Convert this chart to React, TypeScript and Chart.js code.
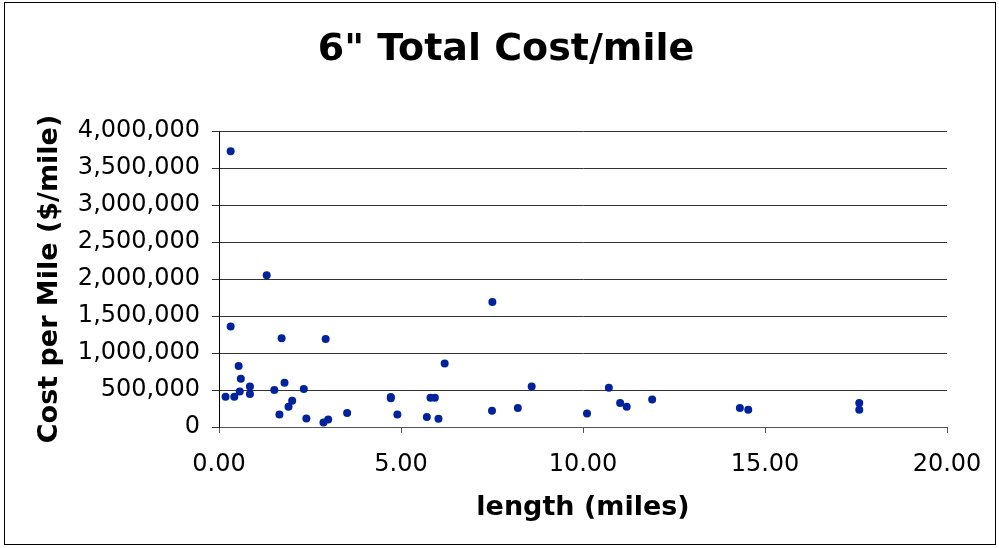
import React, { useEffect, useRef } from "react";
import { Chart, registerables } from "chart.js";

Chart.register(...registerables);

const chartTitle = '6" Total Cost/mile';
const xAxisTitle = "length (miles)";
const yAxisTitle = "Cost per Mile ($/mile)";

const lengthMiles = [
  0.32, 1.31, 0.32, 1.72, 2.93, 0.54, 0.6, 0.18, 0.42, 0.57, 0.85, 0.85, 1.52,
  1.8, 1.66, 1.91, 2.01, 2.33, 2.4, 2.87, 3.0, 3.52, 7.51, 6.2, 8.59, 4.72, 4.72,
  4.9, 5.81, 5.93, 5.71, 6.03, 7.5, 8.21, 10.11, 10.71, 11.02, 11.2, 11.9, 14.31,
  14.54, 17.59, 17.59,
];
const costPerMile = [
  3726000, 2052000, 1358000, 1200000, 1188000, 823000, 652000, 409000, 409000,
  481000, 548000, 445000, 500000, 598000, 170000, 274000, 355000, 513000, 116000,
  62000, 103000, 189000, 1688000, 859000, 548000, 405000, 390000, 170000, 396000,
  396000, 135000, 112000, 220000, 256000, 184000, 531000, 324000, 274000, 373000,
  256000, 234000, 324000, 234000,
];

const xMin = 0;
const xMax = 20;
const xStep = 5;
const yMin = 0;
const yMax = 4000000;
const yStep = 500000;

const FONT = "'DejaVu Sans', Verdana, sans-serif";

const framePlugin = {
  id: "frameAndTitle",
  afterDraw(chart: any) {
    const ctx = chart.ctx;
    ctx.save();
    ctx.strokeStyle = "#000";
    ctx.lineWidth = 1;
    ctx.strokeRect(4.5, 2.5, 991, 542);
    ctx.fillStyle = "#000";
    ctx.font = `bold 38px ${FONT}`;
    ctx.textAlign = "center";
    ctx.textBaseline = "middle";
    ctx.fillText(chartTitle, 506, 50);
    ctx.restore();
  },
};

export default function App() {
  const ref = useRef<HTMLCanvasElement>(null);
  useEffect(() => {
    if (!ref.current) return;
    const points = lengthMiles.map((x, i) => ({ x, y: costPerMile[i] }));
    const chart = new Chart(ref.current, {
      type: "scatter",
      data: {
        datasets: [
          {
            data: points,
            backgroundColor: "#00239c",
            borderColor: "#00239c",
            pointRadius: 4,
            pointBorderWidth: 0,
          },
        ],
      },
      options: {
        responsive: false,
        animation: false,
        layout: { padding: { top: 131, right: 52, left: 0, bottom: 0 } },
        plugins: {
          legend: { display: false },
          title: { display: false },
          tooltip: { enabled: false },
        },
        scales: {
          x: {
            type: "linear",
            min: xMin,
            max: xMax,
            afterFit: (s: any) => {
              s.height = 121;
            },
            ticks: {
              stepSize: xStep,
              color: "#000",
              padding: 17,
              font: { family: FONT, size: 24 },
              callback: (v: any) => Number(v).toFixed(2),
            },
            grid: {
              drawOnChartArea: false,
              drawTicks: true,
              tickLength: 6,
              color: "#555",
            },
            border: { display: true, color: "#555" },
            title: {
              display: true,
              text: xAxisTitle,
              color: "#000",
              font: { family: FONT, size: 27, weight: "bold" },
              padding: { top: 0, bottom: 24 },
            },
          },
          y: {
            type: "linear",
            min: yMin,
            max: yMax,
            afterFit: (s: any) => {
              s.width = 219;
            },
            ticks: {
              stepSize: yStep,
              color: "#000",
              padding: 12,
              font: { family: FONT, size: 24 },
              callback: (v: any) => Number(v).toLocaleString("en-US"),
            },
            grid: {
              drawOnChartArea: true,
              drawTicks: true,
              tickLength: 7,
              color: "#333",
            },
            border: { display: true, color: "#000" },
            title: {
              display: true,
              text: yAxisTitle,
              color: "#000",
              font: { family: FONT, size: 27, weight: "bold" },
              padding: { top: 34, bottom: 0 },
            },
          },
        },
      },
      plugins: [framePlugin],
    });
    return () => chart.destroy();
  }, []);
  return (
    <div style={{ position: "fixed", left: 0, top: 0, width: 999, height: 548, background: "#fff" }}>
      <canvas ref={ref} width={999} height={548} style={{ display: "block" }} />
    </div>
  );
}
